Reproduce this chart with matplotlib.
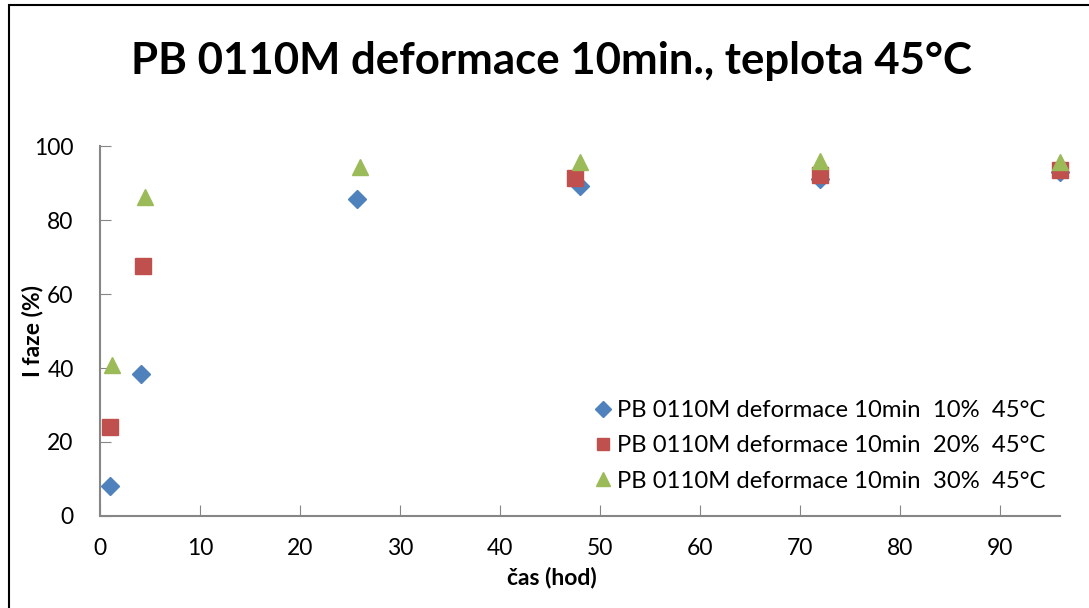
import matplotlib
matplotlib.use("Agg")
import matplotlib.pyplot as plt
from matplotlib.patches import Rectangle

plt.rcParams['font.family'] = ['Lato', 'DejaVu Sans']

# data
x_10 = [1.0, 4.1, 25.7, 48.0, 72.0, 96.0]
y_10 = [8.2, 38.4, 85.8, 89.1, 91.0, 93.0]
x_20 = [1.0, 4.3, 47.5, 72.0, 96.0]
y_20 = [24.0, 67.6, 91.3, 92.1, 93.6]
x_30 = [1.2, 4.5, 26.0, 48.0, 72.0, 96.0]
y_30 = [40.7, 86.1, 94.2, 95.6, 96.0, 95.7]

labels = ['PB 0110M deformace 10min  10%  45°C',
          'PB 0110M deformace 10min  20%  45°C',
          'PB 0110M deformace 10min  30%  45°C']
title = 'PB 0110M deformace 10min., teplota 45°C'
x_ticks = [0, 10, 20, 30, 40, 50, 60, 70, 80, 90]
y_ticks = [0, 20, 40, 60, 80, 100]

fig = plt.figure(figsize=(10.89, 6.08), dpi=100)
ax = fig.add_axes([100 / 1089, 1 - 516 / 608, 960 / 1089, 370 / 608])

ax.plot(x_10, y_10, 'D', color='#4F81BD', markersize=9.5, clip_on=False, label=labels[0])
ax.plot(x_20, y_20, 's', color='#C0504D', markersize=11, clip_on=False, label=labels[1])
ax.plot(x_30, y_30, '^', color='#9BBB59', markersize=12, clip_on=False, label=labels[2])

ax.set_xlim(0, 96)
ax.set_ylim(0, 100)
ax.set_xticks(x_ticks)
ax.set_yticks(y_ticks)
ax.tick_params(direction='in', length=8, color='#868686', labelsize=16.5)
ax.tick_params(axis='y', pad=19)
ax.tick_params(axis='x', pad=16)
for side in ['top', 'right']:
    ax.spines[side].set_visible(False)
for side in ['left', 'bottom']:
    ax.spines[side].set_color('#868686')
    ax.spines[side].set_linewidth(1.5)

ax.set_xlabel('čas (hod)', fontsize=16.5, fontweight='bold')
ax.set_ylabel('I faze (%)', fontsize=16.5, fontweight='bold')
ax.xaxis.set_label_coords(452 / 960, -62 / 370)
ax.xaxis.label.set_va('center')
ax.yaxis.set_label_coords(-67 / 960, 0.5)
ax.yaxis.label.set_va('center')

fig.text(551 / 1089, 1 - 61 / 608, title, fontsize=31.5, fontweight='bold',
         ha='center', va='center')

ax.legend(loc='lower right', bbox_to_anchor=(0.995, 0.04), frameon=False,
          fontsize=17.2, handletextpad=0.1, labelspacing=0.6, borderaxespad=0,
          handlelength=1.0, markerscale=0.85)

# outer chart border
fig.patches.append(Rectangle((9 / 1089, -0.1), 1.1, 1.1 - 5 / 608,
                             transform=fig.transFigure, fill=False,
                             edgecolor='black', linewidth=1.5))

fig.savefig('out.png', dpi=100)
